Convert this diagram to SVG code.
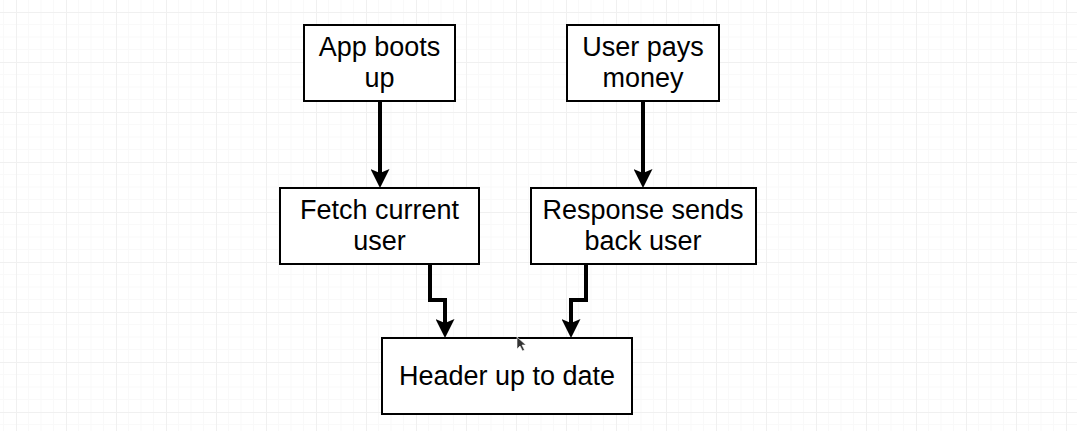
<svg xmlns="http://www.w3.org/2000/svg" width="1077" height="431" viewBox="0 0 1077 431">
<style>
.box{fill:#ffffff;stroke:#000000;stroke-width:2}
.lbl{font-family:"Liberation Sans",Arial,Helvetica,sans-serif;font-size:27px;fill:#000000;text-anchor:middle}
.edge{fill:none;stroke:#000000;stroke-width:4;stroke-linejoin:miter}
</style>
<defs>
<pattern id="grid" x="16" y="12" width="50" height="50" patternUnits="userSpaceOnUse">
<rect x="0" y="0" width="50" height="50" fill="#ffffff"/>
<g fill="#f9f9f9">
<rect x="12" y="0" width="1" height="50"/>
<rect x="24.5" y="0" width="1" height="50"/>
<rect x="37" y="0" width="1" height="50"/>
<rect x="0" y="12" width="50" height="1"/>
<rect x="0" y="24.5" width="50" height="1"/>
<rect x="0" y="37" width="50" height="1"/>
</g>
<g fill="#f0f0f0">
<rect x="0" y="0" width="1" height="50"/>
<rect x="0" y="0" width="50" height="1"/>
</g>
</pattern>
<marker id="arr" viewBox="0 0 19 19" markerWidth="19" markerHeight="19" refX="4" refY="9.5" orient="auto" markerUnits="userSpaceOnUse">
<path d="M0,0 L19,9.5 L0,19 L4,9.5 Z" fill="#000000"/>
</marker>
</defs>
<rect x="0" y="0" width="1077" height="431" fill="url(#grid)"/>
<g id="connectors">
<path class="edge" d="M380,101 L380,173" marker-end="url(#arr)"/>
<path class="edge" d="M643,101 L643,173" marker-end="url(#arr)"/>
<path class="edge" d="M430,264 L430,300 L445,300 L445,323" marker-end="url(#arr)"/>
<path class="edge" d="M586,264 L586,300 L571,300 L571,323" marker-end="url(#arr)"/>
</g>
<g id="app-boots-up">
<rect class="box" x="304" y="25" width="151" height="76"/>
<text class="lbl" x="379.5" y="55.5">App boots</text>
<text class="lbl" x="379.5" y="87">up</text>
</g>
<g id="user-pays-money">
<rect class="box" x="567" y="25" width="152" height="76"/>
<text class="lbl" x="643" y="55.5">User pays</text>
<text class="lbl" x="643" y="87">money</text>
</g>
<g id="fetch-current-user">
<rect class="box" x="280" y="188" width="199" height="76"/>
<text class="lbl" x="379.5" y="218.5">Fetch current</text>
<text class="lbl" x="379.5" y="250">user</text>
</g>
<g id="response-sends-back-user">
<rect class="box" x="531" y="188" width="225" height="76"/>
<text class="lbl" x="643" y="218.5">Response sends</text>
<text class="lbl" x="643" y="250">back user</text>
</g>
<g id="header-up-to-date">
<rect class="box" x="382" y="338" width="250" height="76"/>
<text class="lbl" x="507" y="384.5">Header up to date</text>
</g>
<path d="M517,337 L517,349 L520,346 L522.5,351 L524.5,350 L522,345 L526,345 Z" fill="#333333" stroke="#ffffff" stroke-width="0.6"/>
</svg>
